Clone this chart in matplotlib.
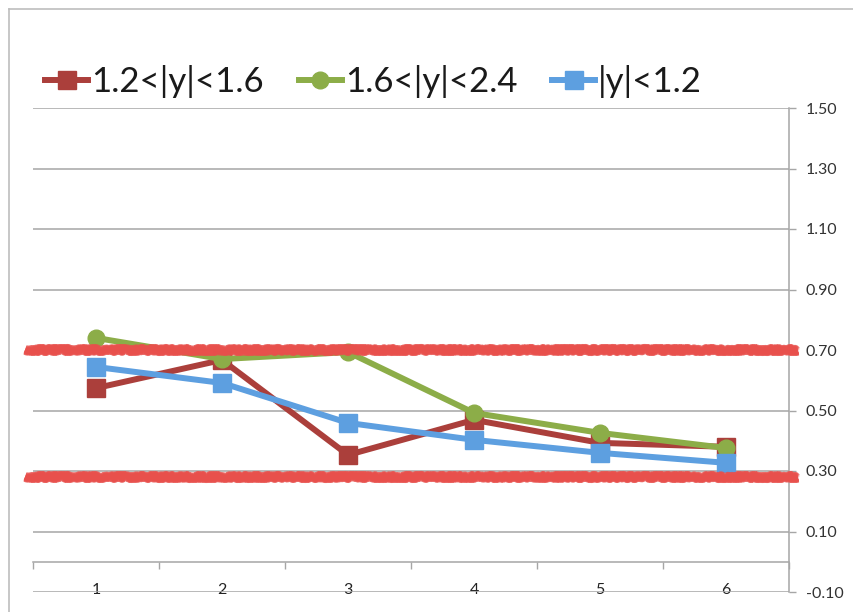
import matplotlib
matplotlib.use("Agg")
import matplotlib.pyplot as plt
from matplotlib.lines import Line2D
from matplotlib.ticker import FixedLocator, FormatStrFormatter

# Series values per bin
bins = [1, 2, 3, 4, 5, 6]
bin_labels = ["1", "2", "3", "4", "5", "6"]
mid_y = [0.574, 0.667, 0.353, 0.469, 0.393, 0.380]      # 1.2<|y|<1.6
fwd_y = [0.740, 0.670, 0.693, 0.492, 0.426, 0.376]      # 1.6<|y|<2.4
cen_y = [0.644, 0.591, 0.459, 0.403, 0.360, 0.327]      # |y|<1.2
series_names = ["1.2<|y|<1.6", "1.6<|y|<2.4", "|y|<1.2"]

# Reference band limits
band_levels = [0.70, 0.28]

y_ticks = [-0.10, 0.10, 0.30, 0.50, 0.70, 0.90, 1.10, 1.30, 1.50]

plt.rcParams["font.family"] = ["Lato", "DejaVu Sans"]

W, H = 854, 612
fig = plt.figure(figsize=(W / 100, H / 100), dpi=100)
fig.patch.set_facecolor("white")

# plot area in pixel coordinates
x0, x1 = 33, 789
y_top, y_bot = 108, 592
ax = fig.add_axes([x0 / W, 1 - y_bot / H, (x1 - x0) / W, (y_bot - y_top) / H])
ax.set_xlim(0.5, 6.5)
ax.set_ylim(-0.10, 1.50)

grid_col = "#a6a6a6"

# value axis on the right
ax.yaxis.tick_right()
ax.yaxis.set_major_locator(FixedLocator(y_ticks))
ax.yaxis.set_major_formatter(FormatStrFormatter("%.2f"))
ax.tick_params(axis="y", which="major", direction="out", length=5, width=1,
               color=grid_col, labelsize=11.5, labelcolor="#333333", pad=7)
ax.yaxis.grid(True, color=grid_col, linewidth=1.1)
ax.set_axisbelow(True)

for side in ["top", "left"]:
    ax.spines[side].set_visible(False)
ax.spines["right"].set_color(grid_col)
ax.spines["right"].set_linewidth(1.1)

# category axis crossing at zero
ax.spines["bottom"].set_position(("data", 0))
ax.spines["bottom"].set_color(grid_col)
ax.spines["bottom"].set_linewidth(1.1)
ax.set_xticks(bins)
ax.set_xticklabels(bin_labels)
ax.set_xticks([b - 0.5 for b in bins] + [6.5], minor=True)
ax.tick_params(axis="x", which="major", length=0, labelsize=11.5,
               labelcolor="#222222", pad=15)
ax.tick_params(axis="x", which="minor", direction="out", length=5, width=1,
               color=grid_col)

red = "#ab3f3b"
green = "#8cad48"
blue = "#5d9fe0"
lw = 4.3

ax.plot(bins, mid_y, color=red, lw=lw, marker="s", ms=13.5, mec=red,
        mfc=red, label=series_names[0], zorder=3)
ax.plot(bins, fwd_y, color=green, lw=lw, marker="o", ms=12, mec=green,
        mfc=green, label=series_names[1], zorder=4)
ax.plot(bins, cen_y, color=blue, lw=lw, marker="s", ms=13.5, mec=blue,
        mfc=blue, label=series_names[2], zorder=5)

# highlighted reference bands
bx0 = (25 - x0) / (x1 - x0)
bx1 = (798 - x0) / (x1 - x0)
for lvl in band_levels:
    for k in range(3):
        ln = ax.axhline(lvl, xmin=bx0, xmax=bx1, color="#e8504c",
                        lw=7.0 - 1.5 * k, alpha=0.85, clip_on=False,
                        zorder=6, solid_capstyle="butt")
        ln.set_sketch_params(scale=1.2 + 0.4 * k, length=3, randomness=8)

# legend across the top
leg = fig.legend(loc="center left", bbox_to_anchor=(45 / W, 1 - 82 / H),
                 ncol=3, frameon=False, fontsize=25, handlelength=1.25,
                 handletextpad=0.08, columnspacing=1.0, borderpad=0,
                 borderaxespad=0)
for t in leg.get_texts():
    t.set_color("#1a1a1a")

# chart border
border_col = "#bdbdbd"
fig.add_artist(Line2D([9 / W, 1], [1 - 9 / H, 1 - 9 / H], color=border_col,
                      lw=1.2, transform=fig.transFigure))
fig.add_artist(Line2D([9 / W, 9 / W], [0, 1 - 9 / H], color=border_col,
                      lw=1.2, transform=fig.transFigure))

fig.savefig("out.png", dpi=100, facecolor="white")
